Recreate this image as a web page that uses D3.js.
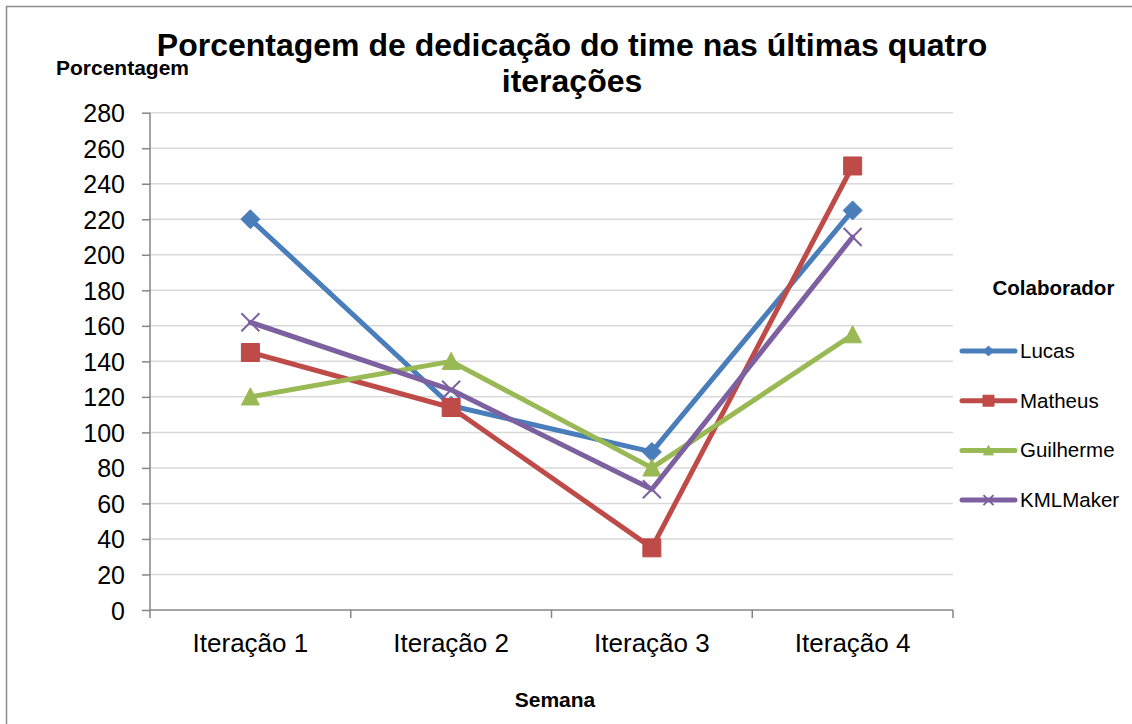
<!DOCTYPE html>
<html><head><meta charset="utf-8">
<script src="https://cdn.jsdelivr.net/npm/d3@7"></script>
<style>body{margin:0;background:#fff}svg{display:block;font-family:'Liberation Sans',Arial,sans-serif}</style>
</head><body>
<script>
const categories = ["Iteração 1","Iteração 2","Iteração 3","Iteração 4"];
const seriesNames = ["Lucas","Matheus","Guilherme","KMLMaker"];
const lucas = [220,115,89,225];
const matheus = [145,114,35,250];
const guilherme = [120,140,80,155];
const kmlmaker = [162,124,68,210];
const yTicks = [0,20,40,60,80,100,120,140,160,180,200,220,240,260,280];
const colors = ["#4A7EBB","#BE4B48","#98B954","#7D60A0"];
const markers = ["diamond","square","triangle","x"];
const seriesValues = [lucas,matheus,guilherme,kmlmaker];

(function(){
const FF="'Liberation Sans', Arial, sans-serif";
const W=1132,H=724;
const svg=d3.select("body").append("svg").attr("width",W).attr("height",H).attr("font-family",FF);
svg.append("rect").attr("x",6.5).attr("y",6.5).attr("width",1140).attr("height",740).attr("fill","#fff").attr("stroke","#8c8c8c").attr("stroke-width",1.5);

const pL=150,pR=953,pT=112.7,pB=610;
const x=d3.scaleBand().domain(categories).range([pL,pR]);
const y=d3.scaleLinear().domain([0,280]).range([pB,pT]);

svg.append("g").selectAll("line").data(yTicks.filter(d=>d>0)).join("line")
 .attr("x1",pL).attr("x2",pR).attr("y1",d=>y(d)).attr("y2",d=>y(d))
 .attr("stroke","#d9d9d9").attr("stroke-width",1.5);

const ya=svg.append("g").attr("transform",`translate(${pL},0)`)
 .call(d3.axisLeft(y).tickValues(yTicks).tickSize(8).tickPadding(17));
ya.select(".domain").attr("stroke","#868686").attr("stroke-width",1.5).attr("d",`M0,${pT}V${pB}`);
ya.selectAll(".tick line").attr("stroke","#868686").attr("stroke-width",1.5);
ya.selectAll("text").attr("font-size",25).attr("fill","#000").attr("font-family",FF).attr("dy","0.36em");

const xa=svg.append("g").attr("transform",`translate(0,${pB})`)
 .call(d3.axisBottom(x).tickSize(0).tickPadding(23.5));
xa.select(".domain").attr("stroke","#868686").attr("stroke-width",1.5).attr("d",`M${pL},0H${pR}`);
xa.selectAll("text").attr("font-size",26).attr("fill","#000").attr("font-family",FF);
const bounds=[pL].concat(categories.map(c=>x(c)+x.bandwidth()));
svg.append("g").selectAll("line").data(bounds).join("line")
 .attr("x1",d=>d).attr("x2",d=>d).attr("y1",pB).attr("y2",pB+8)
 .attr("stroke","#868686").attr("stroke-width",1.5);

function markerPath(type,s){
  const h=s/2;
  if(type==="diamond") return `M0,${-h}L${h},0L0,${h}L${-h},0Z`;
  if(type==="square") return `M${-h},${-h}H${h}V${h}H${-h}Z`;
  if(type==="triangle") return `M0,${-h}L${h},${h*0.9}L${-h},${h*0.9}Z`;
  return `M${-h},${-h}L${h},${h}M${-h},${h}L${h},${-h}`;
}
function drawMarker(g,type,color,cx,cy,s){
  const p=g.append("path").attr("d",markerPath(type,s)).attr("transform",`translate(${cx},${cy})`);
  if(type==="x") p.attr("fill","none").attr("stroke",color).attr("stroke-width",2);
  else p.attr("fill",color).attr("stroke",color).attr("stroke-width",1);
}

const line=d3.line().x((d,i)=>x(categories[i])+x.bandwidth()/2).y(d=>y(d));
seriesValues.forEach((vals,si)=>{
  const g=svg.append("g");
  g.append("path").datum(vals).attr("d",line).attr("fill","none")
   .attr("stroke",colors[si]).attr("stroke-width",5).attr("stroke-linejoin","round").attr("stroke-linecap","round");
  vals.forEach((v,i)=>{
    const sz={diamond:19,square:18,triangle:18,x:18}[markers[si]];
    drawMarker(g,markers[si],colors[si],x(categories[i])+x.bandwidth()/2,y(v),sz);
  });
});

const t=svg.append("text").attr("text-anchor","middle").attr("font-weight","bold").attr("font-size",32).attr("fill","#000");
t.append("tspan").attr("x",572).attr("y",56).text("Porcentagem de dedicação do time nas últimas quatro");
t.append("tspan").attr("x",572).attr("y",92).text("iterações");
svg.append("text").attr("x",56).attr("y",75).attr("font-weight","bold").attr("font-size",21).text("Porcentagem");
svg.append("text").attr("x",555).attr("y",706.5).attr("text-anchor","middle").attr("font-weight","bold").attr("font-size",21).text("Semana");

svg.append("text").attr("x",992.5).attr("y",295).attr("font-weight","bold").attr("font-size",20.5).text("Colaborador");
seriesNames.forEach((n,i)=>{
  const ly=351+i*49.7;
  const g=svg.append("g");
  g.append("line").attr("x1",962).attr("x2",1015).attr("y1",ly).attr("y2",ly)
   .attr("stroke",colors[i]).attr("stroke-width",5).attr("stroke-linecap","round");
  drawMarker(g,markers[i],colors[i],988.5,ly,{diamond:10,square:11,triangle:10,x:10}[markers[i]]);
  g.append("text").attr("x",1020).attr("y",ly+7).attr("font-size",20.5).text(n);
});
})();
</script>
</body></html>
